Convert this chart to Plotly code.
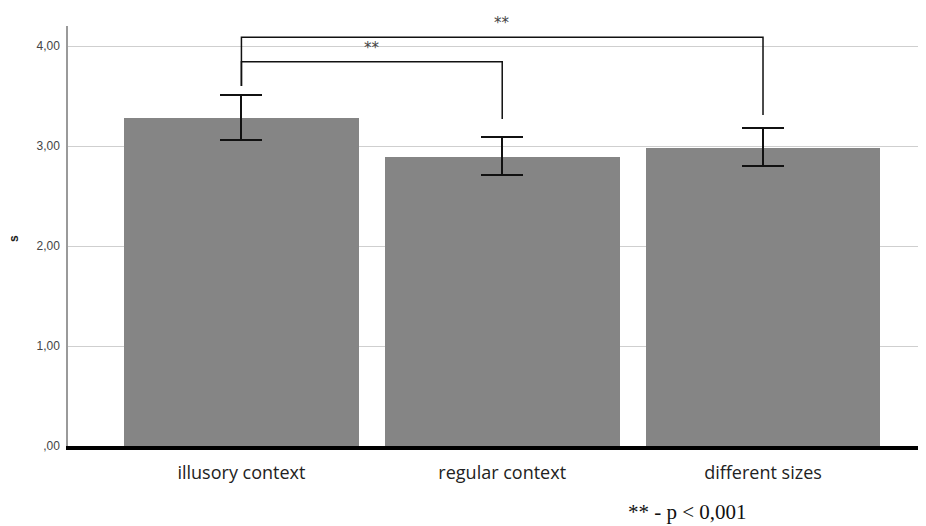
import plotly.graph_objects as go

categories = ["illusory context", "regular context", "different sizes"]
means = [3.277, 2.893, 2.983]
ci_upper = [3.507, 3.087, 3.177]
ci_lower = [3.057, 2.713, 2.797]
y_tickvals = [0, 1, 2, 3, 4]
y_ticktext = [",00", "1,00", "2,00", "3,00", "4,00"]
y_title = "s"
# significance brackets
bracket_from = [0, 0]
bracket_to = [1, 2]
bracket_level = [3.843, 4.087]
bracket_left_end = [3.6, 3.6]
bracket_right_end = [3.27, 3.31]
bracket_label = ["**", "**"]
footnote = "** - p < 0,001"

xi = list(range(len(categories)))
err_plus = [u - m for u, m in zip(ci_upper, means)]
err_minus = [m - l for m, l in zip(means, ci_lower)]

fig = go.Figure()
fig.add_trace(go.Bar(
    x=xi, y=means, width=0.9,
    marker=dict(color="#858585", line=dict(width=0)),
    error_y=dict(type="data", array=err_plus, arrayminus=err_minus,
                 color="#111111", thickness=2, width=21, visible=True),
    showlegend=False, hoverinfo="skip",
))

for a, b, lvl, le, re_, lab in zip(bracket_from, bracket_to, bracket_level,
                                   bracket_left_end, bracket_right_end, bracket_label):
    fig.add_trace(go.Scatter(
        x=[a, a, b, b], y=[le, lvl, lvl, re_], mode="lines",
        line=dict(color="#111111", width=1.5), showlegend=False, hoverinfo="skip",
    ))
    fig.add_annotation(x=(a + b) / 2, y=lvl, text=lab, showarrow=False,
                       yanchor="bottom", yshift=3,
                       font=dict(family="DejaVu Sans", size=15, color="#444444"))

fig.add_annotation(x=0.7226, y=0.0, xref="paper", yref="paper",
                   xanchor="center", yanchor="middle", yshift=-66,
                   text=footnote, showarrow=False,
                   font=dict(family="Liberation Serif", size=21, color="#111111"))

fig.add_annotation(x=0.0, y=0.5, xref="paper", yref="paper",
                   xanchor="center", yanchor="middle", xshift=-54, yshift=-3,
                   text="<b>" + y_title + "</b>", showarrow=False, textangle=-90,
                   font=dict(family="Liberation Sans", size=12, color="#222222"))

fig.update_layout(
    width=918, height=518,
    margin=dict(l=60, r=0, t=18, b=80, autoexpand=False),
    paper_bgcolor="white", plot_bgcolor="white",
    bargap=0,
    xaxis=dict(range=[-0.665, 2.625], tickvals=xi, ticktext=categories,
               showgrid=False, zeroline=False, showline=True, linecolor="#000000",
               linewidth=4, ticks="", ticklabelstandoff=7, automargin=False,
               tickfont=dict(family="Open Sans", size=18, color="#222222")),
    yaxis=dict(range=[0, 4.2], tickvals=y_tickvals, ticktext=y_ticktext,
               showgrid=True, gridcolor="#cfcfcf", gridwidth=1,
               zeroline=False, showline=True, linecolor="#9a9a9a", linewidth=1.5,
               ticks="", ticklabelstandoff=4, automargin=False,
               tickfont=dict(family="Liberation Sans", size=12, color="#444444")),
)

fig.write_html("out.html")
